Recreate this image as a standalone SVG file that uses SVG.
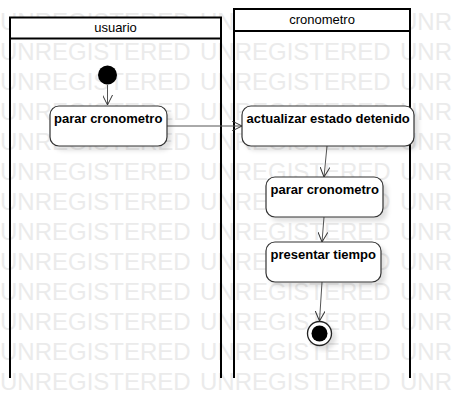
<svg xmlns="http://www.w3.org/2000/svg" width="454" height="418" viewBox="0 0 454 418">
<style>
.wm{font-family:"Liberation Sans",Arial,sans-serif;font-size:24px;fill:#ebebeb}
.lane{fill:none;stroke:#000;stroke-width:2}
.hdr{fill:#fff;stroke:#000;stroke-width:2}
.ht{font-family:"Liberation Sans",Arial,sans-serif;font-size:13px;fill:#000;text-anchor:middle}
.act{fill:#fff;stroke:#333;stroke-width:1.2}
.at{font-family:"Liberation Sans",Arial,sans-serif;font-size:13px;font-weight:bold;fill:#000}
.con{fill:none;stroke:#555;stroke-width:1;marker-end:url(#arr)}
</style>
<defs>
<marker id="arr" viewBox="0 0 10 10" refX="10" refY="5" markerWidth="10" markerHeight="10" markerUnits="userSpaceOnUse" orient="auto">
<path d="M0,0 L10,5 L0,10" fill="none" stroke="#333" stroke-width="1"/>
</marker>
<filter id="sh" x="-20%" y="-20%" width="150%" height="150%">
<feDropShadow dx="4" dy="4" stdDeviation="2" flood-color="#000" flood-opacity="0.12"/>
</filter>
</defs>
<rect width="454" height="418" fill="#fff"/>
<g id="watermark">
<text class="wm" y="30"><tspan x="0">UNREGISTERED</tspan><tspan x="200">UNREGISTERED</tspan><tspan x="400">UNR</tspan></text>
<text class="wm" y="60"><tspan x="0">UNREGISTERED</tspan><tspan x="200">UNREGISTERED</tspan><tspan x="400">UNR</tspan></text>
<text class="wm" y="90"><tspan x="0">UNREGISTERED</tspan><tspan x="200">UNREGISTERED</tspan><tspan x="400">UNR</tspan></text>
<text class="wm" y="120"><tspan x="0">UNREGISTERED</tspan><tspan x="200">UNREGISTERED</tspan><tspan x="400">UNR</tspan></text>
<text class="wm" y="150"><tspan x="0">UNREGISTERED</tspan><tspan x="200">UNREGISTERED</tspan><tspan x="400">UNR</tspan></text>
<text class="wm" y="180"><tspan x="0">UNREGISTERED</tspan><tspan x="200">UNREGISTERED</tspan><tspan x="400">UNR</tspan></text>
<text class="wm" y="210"><tspan x="0">UNREGISTERED</tspan><tspan x="200">UNREGISTERED</tspan><tspan x="400">UNR</tspan></text>
<text class="wm" y="240"><tspan x="0">UNREGISTERED</tspan><tspan x="200">UNREGISTERED</tspan><tspan x="400">UNR</tspan></text>
<text class="wm" y="270"><tspan x="0">UNREGISTERED</tspan><tspan x="200">UNREGISTERED</tspan><tspan x="400">UNR</tspan></text>
<text class="wm" y="300"><tspan x="0">UNREGISTERED</tspan><tspan x="200">UNREGISTERED</tspan><tspan x="400">UNR</tspan></text>
<text class="wm" y="330"><tspan x="0">UNREGISTERED</tspan><tspan x="200">UNREGISTERED</tspan><tspan x="400">UNR</tspan></text>
<text class="wm" y="360"><tspan x="0">UNREGISTERED</tspan><tspan x="200">UNREGISTERED</tspan><tspan x="400">UNR</tspan></text>
<text class="wm" y="390"><tspan x="0">UNREGISTERED</tspan><tspan x="200">UNREGISTERED</tspan><tspan x="400">UNR</tspan></text>
</g>
<g id="lane-usuario">
<path class="lane" d="M10,38.5 V378 M221,38.5 V378"/>
<rect class="hdr" x="10" y="17.5" width="211" height="21"/>
<text class="ht" x="115.5" y="32">usuario</text>
</g>
<g id="lane-cronometro">
<path class="lane" d="M234,31 V378 M410,31 V378"/>
<rect class="hdr" x="234" y="9" width="176" height="22"/>
<text class="ht" x="322" y="24">cronometro</text>
</g>
<g id="connectors">
<path class="con" d="M107.5,85 L107.5,105"/>
<path class="con" d="M167,126 L242,126"/>
<path class="con" d="M327,146 L324,177"/>
<path class="con" d="M324,217 L322,242"/>
<path class="con" d="M322,282 L319.5,321"/>
</g>
<g id="start">
<circle cx="107.5" cy="75" r="9.5" fill="#000"/>
</g>
<g id="n1">
<rect class="act" filter="url(#sh)" x="50" y="106" width="117" height="40" rx="9"/>
<text class="at" x="54" y="123">parar cronometro</text>
</g>
<g id="n2">
<rect class="act" filter="url(#sh)" x="242" y="106" width="172" height="40" rx="9"/>
<text class="at" x="246.5" y="123">actualizar estado detenido</text>
</g>
<g id="n3">
<rect class="act" filter="url(#sh)" x="266" y="177" width="117" height="40" rx="9"/>
<text class="at" x="270.5" y="194">parar cronometro</text>
</g>
<g id="n4">
<rect class="act" filter="url(#sh)" x="266" y="242" width="115" height="40" rx="9"/>
<text class="at" x="270.5" y="259">presentar tiempo</text>
</g>
<g id="end">
<circle cx="319.5" cy="333.5" r="12" fill="#fff" stroke="#222" stroke-width="1.3" filter="url(#sh)"/>
<circle cx="319.5" cy="333.5" r="8" fill="#000"/>
</g>
</svg>
